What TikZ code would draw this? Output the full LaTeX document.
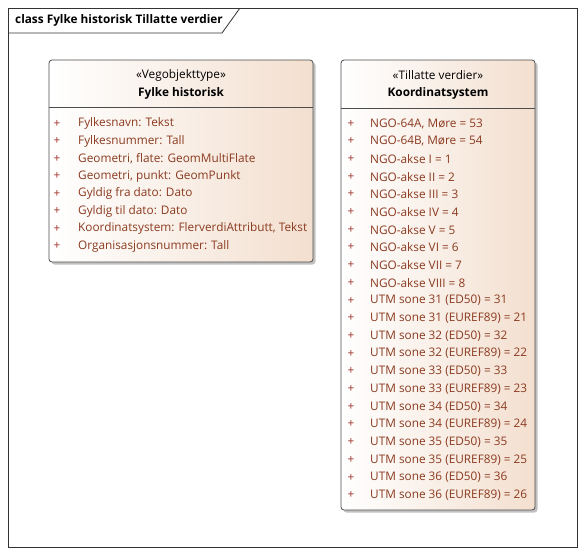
\documentclass[tikz,border=0pt]{standalone}
\usepackage{fontspec}
\setmainfont{Open Sans}
\usetikzlibrary{shadows}

\definecolor{attrtekst}{HTML}{8B3A1F}
\definecolor{pluss}{HTML}{A0302A}
\definecolor{fersken}{HTML}{F3DFCF}

\tikzset{
  klasse/.style={draw=black!70, line width=0.8pt, rounded corners=3pt,
    left color=white, right color=fersken,
    drop shadow={shadow xshift=2.5pt, shadow yshift=-2.5pt, fill=black!30, opacity=0.8}},
  stereo/.style={font=\fontsize{11.8}{14}\selectfont, inner sep=0pt},
  navn/.style={font=\fontsize{11.8}{14}\selectfont\bfseries, inner sep=0pt},
  attr/.style={anchor=west, text=attrtekst, font=\fontsize{11.8}{14}\selectfont, inner sep=0pt},
  plus/.style={text=pluss, font=\fontsize{11.8}{14}\selectfont, inner sep=0pt}
}

\begin{document}
\begin{tikzpicture}[x=1pt,y=-1pt]
    \useasboundingbox (0,0) rectangle (585,555);
    % ramme med fane
    \draw[black!80, line width=0.8pt] (8,8) rectangle (577,547);
    \draw[black!80, line width=0.8pt] (8,33) -- (222,33) -- (240,8);
    \node[anchor=west, font=\fontsize{11.8}{14}\selectfont\bfseries, inner sep=0pt] (tittel) at (15,20.5) {class Fylke historisk Tillatte verdier};

    % Fylke historisk
    \node[klasse, minimum width=264pt, minimum height=202pt] (fylke) at (181,161) {};
    \draw[black!70, line width=0.8pt] ([yshift=-48pt]fylke.north west) -- ([yshift=-48pt]fylke.north east);
    \node[stereo] (fylkeS) at (181,75) {«Vegobjekttype»};
    \node[navn] (fylkeN) at (181,93) {Fylke historisk};
    \node[plus] at (57,123.5) {+};
    \node[attr] (f1) at (78,123.5) {Fylkesnavn: Tekst};
    \node[plus] at (57,141) {+};
    \node[attr] (f2) at (78,141) {Fylkesnummer: Tall};
    \node[plus] at (57,158.5) {+};
    \node[attr] (f3) at (78,158.5) {Geometri, flate: GeomMultiFlate};
    \node[plus] at (57,176) {+};
    \node[attr] (f4) at (78,176) {Geometri, punkt: GeomPunkt};
    \node[plus] at (57,193.5) {+};
    \node[attr] (f5) at (78,193.5) {Gyldig fra dato: Dato};
    \node[plus] at (57,211) {+};
    \node[attr] (f6) at (78,211) {Gyldig til dato: Dato};
    \node[plus] at (57,228.5) {+};
    \node[attr] (f7) at (78,228.5) {Koordinatsystem: FlerverdiAttributt, Tekst};
    \node[plus] at (57,246) {+};
    \node[attr] (f8) at (78,246) {Organisasjonsnummer: Tall};

    % Koordinatsystem
    \node[klasse, minimum width=194pt, minimum height=450pt] (koord) at (438,285) {};
    \draw[black!70, line width=0.8pt] ([yshift=-49pt]koord.north west) -- ([yshift=-49pt]koord.north east);
    \node[stereo] (koordS) at (438,75) {«Tillatte verdier»};
    \node[navn] (koordN) at (438,93) {Koordinatsystem};
    \node[plus] at (351,123.5) {+};
    \node[attr] (k1) at (370,123.5) {NGO-64A, Møre = 53};
    \node[plus] at (351,141.2) {+};
    \node[attr] (k2) at (370,141.2) {NGO-64B, Møre = 54};
    \node[plus] at (351,158.9) {+};
    \node[attr] (k3) at (370,158.9) {NGO-akse I = 1};
    \node[plus] at (351,176.6) {+};
    \node[attr] (k4) at (370,176.6) {NGO-akse II = 2};
    \node[plus] at (351,194.3) {+};
    \node[attr] (k5) at (370,194.3) {NGO-akse III = 3};
    \node[plus] at (351,212) {+};
    \node[attr] (k6) at (370,212) {NGO-akse IV = 4};
    \node[plus] at (351,229.7) {+};
    \node[attr] (k7) at (370,229.7) {NGO-akse V = 5};
    \node[plus] at (351,247.4) {+};
    \node[attr] (k8) at (370,247.4) {NGO-akse VI = 6};
    \node[plus] at (351,265.1) {+};
    \node[attr] (k9) at (370,265.1) {NGO-akse VII = 7};
    \node[plus] at (351,282.8) {+};
    \node[attr] (k10) at (370,282.8) {NGO-akse VIII = 8};
    \node[plus] at (351,300.5) {+};
    \node[attr] (k11) at (370,300.5) {UTM sone 31 (ED50) = 31};
    \node[plus] at (351,318.2) {+};
    \node[attr] (k12) at (370,318.2) {UTM sone 31 (EUREF89) = 21};
    \node[plus] at (351,335.9) {+};
    \node[attr] (k13) at (370,335.9) {UTM sone 32 (ED50) = 32};
    \node[plus] at (351,353.6) {+};
    \node[attr] (k14) at (370,353.6) {UTM sone 32 (EUREF89) = 22};
    \node[plus] at (351,371.3) {+};
    \node[attr] (k15) at (370,371.3) {UTM sone 33 (ED50) = 33};
    \node[plus] at (351,389) {+};
    \node[attr] (k16) at (370,389) {UTM sone 33 (EUREF89) = 23};
    \node[plus] at (351,406.7) {+};
    \node[attr] (k17) at (370,406.7) {UTM sone 34 (ED50) = 34};
    \node[plus] at (351,424.4) {+};
    \node[attr] (k18) at (370,424.4) {UTM sone 34 (EUREF89) = 24};
    \node[plus] at (351,442.1) {+};
    \node[attr] (k19) at (370,442.1) {UTM sone 35 (ED50) = 35};
    \node[plus] at (351,459.8) {+};
    \node[attr] (k20) at (370,459.8) {UTM sone 35 (EUREF89) = 25};
    \node[plus] at (351,477.5) {+};
    \node[attr] (k21) at (370,477.5) {UTM sone 36 (ED50) = 36};
    \node[plus] at (351,495.2) {+};
    \node[attr] (k22) at (370,495.2) {UTM sone 36 (EUREF89) = 26};
\end{tikzpicture}
\end{document}
